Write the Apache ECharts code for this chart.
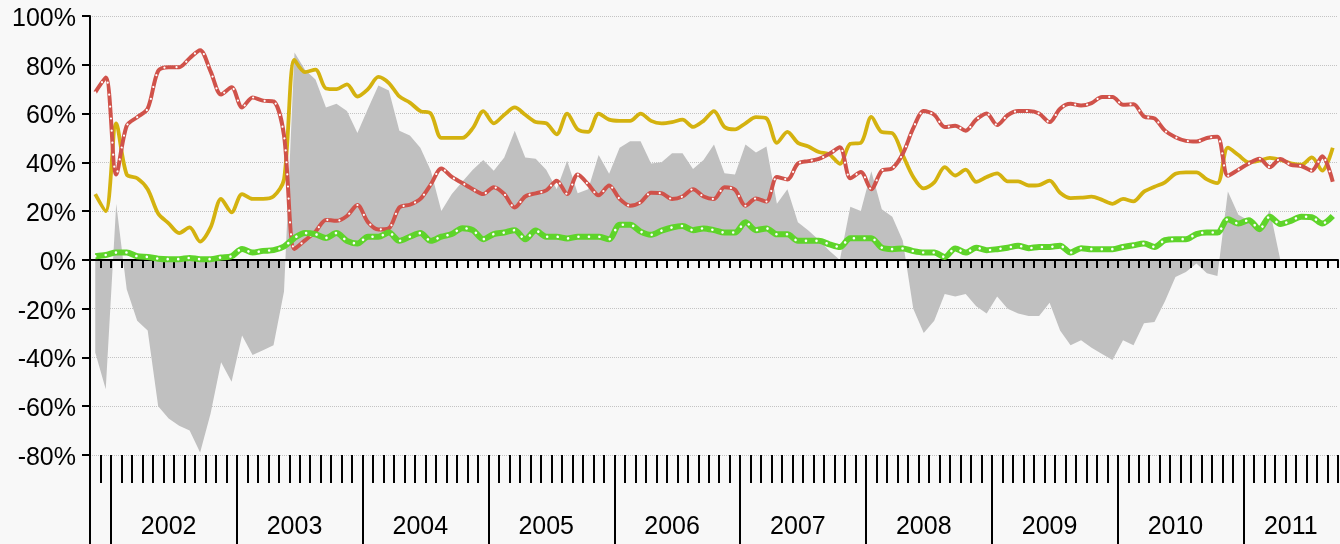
<!DOCTYPE html>
<html><head><meta charset="utf-8">
<script src="https://cdn.jsdelivr.net/npm/echarts@6/dist/echarts.min.js"></script>
<style>html,body{margin:0;padding:0;background:#f8f8f8;}#c{width:1340px;height:544px;}</style>
</head><body><div id="c"></div>
<script>
// ---- data ----
const firstYear = 2001, firstMonth = 11, monthCount = 119;
const months = [];
for (let k = 0; k < monthCount; k++) {
  const m = firstMonth - 1 + k;
  const y = firstYear + Math.floor(m / 12);
  months.push(y + '-' + String(m % 12 + 1).padStart(2, '0'));
}
// month boundaries (start of each month, plus the end boundary)
const boundaries = months.concat(['2011-10']);
const yearLabels = ['2002','2003','2004','2005','2006','2007','2008','2009','2010','2011'];
const yMin = -80, yMax = 100, yStep = 20;

const yellow = [27,20,56,35,33.5,29,19,15,11,13.3,7.5,13.3,25,19.5,27,25,25,26,33,82,77,78,70.3,70,
72,67,70,75,72.5,67,64.5,61,60,50,50,50,54,61,56,59.5,62.5,59.5,56.5,56,51.5,60,53.5,52.5,60,57.5,57,57,60,57,56,
56.5,57.5,54.5,57,61,54.5,53.5,56,58.5,58,48,52.5,48,46.5,44.2,43.3,39.4,47.6,48,58.6,52.4,52,43,34,29.3,31.8,38,34.6,37,
32,34,35.5,32.2,32.2,30.5,30.7,32.5,27.5,25.3,25.5,25.9,24.6,23,25,24,28,30,31.8,35.3,35.9,35.9,33,31.5,46,43,40,40.7,41.8,41,39.6,39,42,36.6,46];

const red = [68.7,74.8,35,55,58.5,62,77.5,79,79,82.7,86,77.3,67.8,70.8,62.5,66.6,65.3,65,51,4.5,8,11.6,16.4,16,
18,22.5,15.5,12.5,13,21.5,22.6,25,31,37.5,34,31.5,29,27,29.8,27,21.5,26,27.3,28.5,32.5,27,35,31,26.5,30.5,25,22.2,23.6,27.5,27.3,
25,26,29,26,25,29.8,28.8,22.2,25.2,23.9,34,33,39.5,40.5,41.4,43.5,46.2,33.5,36,29,36.6,37.5,43.5,54,61,59.5,54.5,55,53,
57.5,60,55.3,59.3,61,61,60,56.5,62,64,63.3,64.3,66.8,66.8,63.6,63.8,58.8,58,53,50.3,48.8,48.5,50,50.5,34.5,37,39.5,41.5,38,41.4,39,38.5,36.6,42.5,32];

const green = [1.5,2,3,3,1.5,1.2,0.5,0.3,0.3,0.8,0.3,0.3,1,1.5,4.5,3,3.7,4,5.5,9,11,10.5,9,11,
7.8,6.7,9.5,9.5,11.2,7.8,9.5,11,7.8,9.5,10.6,13,12.2,8.5,10.6,11.2,12.2,8.5,12,9.5,9.5,8.8,9.5,9.5,9.5,8.5,14.4,14.4,11.6,10.3,12,
13.3,13.9,12.2,12.9,12.2,11.2,11.2,15.4,12.2,12.9,10.5,10.5,7.8,7.8,7.8,6.4,5.3,8.9,8.9,8.9,5,4.4,4.7,3.6,3,3,1.2,4.7,3,
5,4,4.4,5,5.8,4.8,5.3,5.3,5.8,3,4.8,4.4,4.4,4.4,5.3,6,6.7,5.3,8.1,8.5,8.5,10.6,11.2,11.2,16.7,14.9,16.3,12.6,17.7,14.7,16,17.7,17.5,14.9,18];

const gray = [-38,-53,23,-12,-25,-29,-60,-65,-68,-70,-79,-63,-42,-50,-31,-39,-37,-35,-13,85,78,74,62.5,64,
61,52,62,71.5,69.5,53,51,46,36.6,20,27,32,37,41,36.6,42,53,42,41.5,37,29,40.7,27.3,29,43,35.3,46,48.6,48.6,39.5,40,
43.7,43.7,37.3,41,47.3,35.5,35,47.3,44,46.5,23,29,15.4,12,8.2,3.7,0,21.8,20,36.3,20.8,17.7,7.8,-20,-30,-25,-14,-15,-14,
-19,-22,-15,-20,-22,-23,-23,-17.6,-29,-35,-33,-36,-38.6,-41,-33,-35,-26,-25.5,-17,-7,-5,-1.5,-5.5,-6.6,28,18.5,16,12,20.5,0,0,0,0,0,0];

// ---- chart ----
const labelIdx = {};
yearLabels.forEach(function (yr) {
  const idxs = [];
  months.forEach(function (m, i) { if (m.slice(0, 4) === yr) idxs.push(i); });
  if (idxs.length) labelIdx[idxs[Math.floor((idxs.length - 1) / 2)]] = true;
});

const FONT = 'Liberation Sans';
const chart = echarts.init(document.getElementById('c'), null, {renderer: 'canvas'});
const hiddenLabel = {show: false};
chart.setOption({
  backgroundColor: '#f8f8f8',
  animation: false,
  grid: {left: 90, right: 2, top: 16, bottom: 89},
  xAxis: [
    {type: 'category', data: months, boundaryGap: true, z: 2,
     axisLine: {show: true, onZero: true, lineStyle: {color: '#000', width: 2}},
     axisTick: {show: true, interval: 0, length: 8, lineStyle: {color: '#000', width: 2}},
     axisLabel: hiddenLabel, splitLine: {show: false}},
    {type: 'category', data: months, boundaryGap: true, position: 'bottom',
     axisLine: {show: false, onZero: false},
     axisTick: {show: true, interval: 0, length: 28, lineStyle: {color: '#000', width: 2}},
     axisLabel: hiddenLabel, splitLine: {show: false}},
    {type: 'category', data: boundaries, boundaryGap: false, position: 'bottom',
     axisLine: {show: false, onZero: false},
     axisTick: {show: true, length: 100, lineStyle: {color: '#000', width: 2},
       interval: function (i, v) { return i === 0 || v.slice(5) === '01'; }},
     axisLabel: hiddenLabel, splitLine: {show: false}},
    {type: 'category', data: months, boundaryGap: true, position: 'bottom',
     axisLine: {show: false, onZero: false}, axisTick: {show: false},
     axisLabel: {show: true, margin: 60, fontSize: 25, fontFamily: FONT, color: '#000',
       interval: function (i) { return !!labelIdx[i]; },
       formatter: function (v) { return v.slice(0, 4); }},
     splitLine: {show: false}}
  ],
  yAxis: {
    type: 'value', min: yMin, max: yMax, interval: yStep, z: 0,
    axisLine: {show: true, lineStyle: {color: '#000', width: 2}},
    axisTick: {show: true, length: 8, lineStyle: {color: '#000', width: 2}},
    axisLabel: {formatter: '{v|{value}%}', margin: 14,
      rich: {v: {fontSize: 25, fontFamily: FONT, color: '#000', padding: [6, 0, 0, 0]}}},
    splitLine: {show: true, lineStyle: {color: '#c4c4c4', width: 1, type: [1, 1]}}
  },
  series: [
    {type: 'line', data: gray, symbol: 'none', z: 1, silent: true,
     lineStyle: {width: 0}, areaStyle: {color: '#c0c0c0', opacity: 1}},
    {type: 'line', data: yellow, symbol: 'none', smooth: 0.3, z: 3, silent: true,
     lineStyle: {color: '#d4b20f', width: 3.8}},
    {type: 'line', data: red, symbol: 'none', smooth: 0.3, z: 4, silent: true,
     lineStyle: {color: '#d0524a', width: 4}},
    {type: 'line', data: red, symbol: 'none', smooth: 0.3, z: 5, silent: true,
     lineStyle: {color: '#ffffff', width: 2.2, type: [0.01, 12], cap: 'round'}},
    {type: 'line', data: green, symbol: 'none', smooth: 0.3, z: 6, silent: true,
     lineStyle: {color: '#5ed42a', width: 6}},
    {type: 'line', data: green, symbol: 'none', smooth: 0.3, z: 7, silent: true,
     lineStyle: {color: '#ffffff', width: 2.6, type: [0.01, 10.5], cap: 'round'}}
  ]
});
</script></body></html>
